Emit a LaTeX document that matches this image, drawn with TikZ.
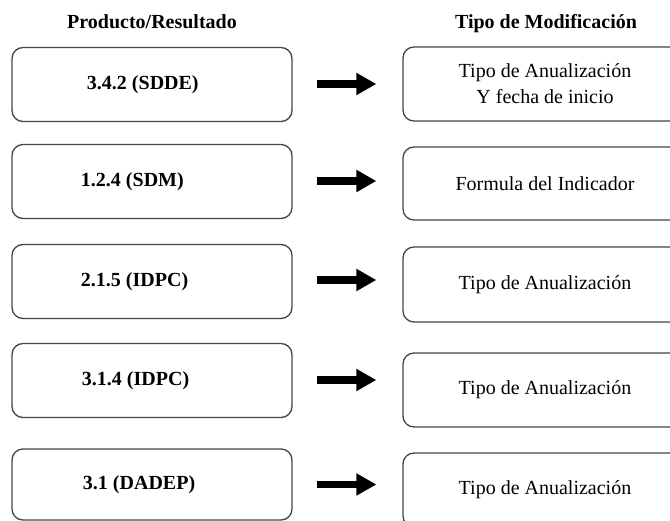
\documentclass[tikz,border=0pt]{standalone}
\usepackage{fontspec}
\setmainfont{Liberation Serif}
\usetikzlibrary{arrows.meta}
\definecolor{edgegray}{RGB}{70,70,70}
\newcommand\lefttext[2]{\makebox[280pt][l]{\hspace*{#1}\raisebox{-2pt}{#2}}}
\tikzset{
  lbox/.style={draw=edgegray, line width=1.3pt, rounded corners=11pt,
    minimum width=280pt, minimum height=74pt, inner sep=0pt,
    font=\fontsize{20}{26}\selectfont\bfseries, align=center},
  rbox/.style={draw=edgegray, line width=1.3pt, rounded corners=11pt,
    minimum width=284pt, minimum height=74pt, inner sep=0pt,
    font=\fontsize{20}{26}\selectfont, align=center},
  header/.style={font=\fontsize{20}{26}\selectfont\bfseries, anchor=base, inner sep=0pt},
  arr/.style={line width=7.5pt, -{Triangle[length=20pt, width=21pt]},
    shorten <=24pt, shorten >=26pt}
}
\begin{document}
\begin{tikzpicture}[x=1pt, y=-1pt]
\useasboundingbox (0,0) rectangle (670,521);
\clip (0,0) rectangle (670,521);
\fill[white] (0,0) rectangle (670,521);

\node[header] (h1) at (152,29) {Producto/Resultado};
\node[header] (h2) at (546,29) {Tipo de Modificación};

\node[lbox] (L1) at (152,84.5) {\lefttext{75pt}{3.4.2 (SDDE)}};
\node[lbox] (L2) at (152,181.5) {\lefttext{69pt}{1.2.4 (SDM)}};
\node[lbox] (L3) at (152,281.5) {\lefttext{69pt}{2.1.5 (IDPC)}};
\node[lbox] (L4) at (152,380.5) {\lefttext{70pt}{3.1.4 (IDPC)}};
\node[lbox, minimum height=71pt] (L5) at (152,484.5) {\lefttext{71pt}{3.1 (DADEP)}};

\node[rbox] (R1) at (545,84) {Tipo de Anualización\\Y fecha de inicio};
\node[rbox, minimum height=73pt] (R2) at (545,183.5) {Formula del Indicador};
\node[rbox, minimum height=75pt] (R3) at (545,284.5) {Tipo de Anualización};
\node[rbox] (R4) at (545,390) {Tipo de Anualización};
\node[rbox] (R5) at (545,490) {Tipo de Anualización};

\draw[arr] ([yshift=0.5pt]L1.east) -- ([yshift=0.5pt]L1.east -| R1.west);
\draw[arr] ([yshift=0.5pt]L2.east) -- ([yshift=0.5pt]L2.east -| R2.west);
\draw[arr] ([yshift=1.5pt]L3.east) -- ([yshift=1.5pt]L3.east -| R3.west);
\draw[arr] ([yshift=0.5pt]L4.east) -- ([yshift=0.5pt]L4.east -| R4.west);
\draw[arr] (L5.east) -- (L5.east -| R5.west);
\end{tikzpicture}
\end{document}
